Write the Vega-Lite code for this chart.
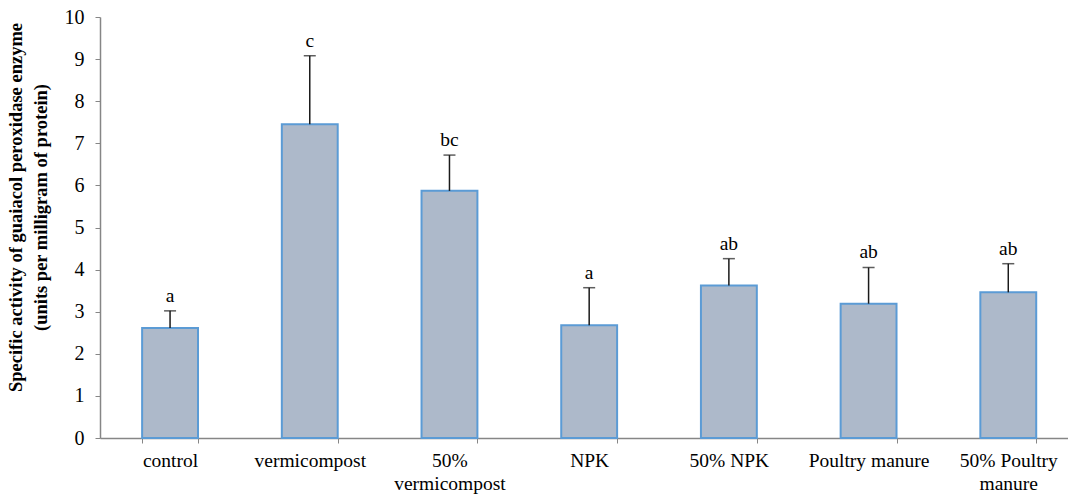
{
  "$schema": "https://vega.github.io/schema/vega-lite/v6.json",
  "autosize": "none",
  "width": 968,
  "height": 421,
  "padding": {"left": 100, "top": 17, "right": 0, "bottom": 58},
  "background": "white",
  "config": {
    "view": {"stroke": null},
    "font": "Liberation Serif"
  },
  "data": {
    "values": [
      {"treatment": "control", "mean": 2.61, "upper": 3.02, "letter": "a"},
      {"treatment": "vermicompost", "mean": 7.45, "upper": 9.08, "letter": "c"},
      {"treatment": "50% vermicompost", "mean": 5.87, "upper": 6.72, "letter": "bc"},
      {"treatment": "NPK", "mean": 2.68, "upper": 3.57, "letter": "a"},
      {"treatment": "50% NPK", "mean": 3.62, "upper": 4.26, "letter": "ab"},
      {"treatment": "Poultry manure", "mean": 3.19, "upper": 4.05, "letter": "ab"},
      {"treatment": "50% Poultry manure", "mean": 3.46, "upper": 4.14, "letter": "ab"}
    ]
  },
  "encoding": {
    "x": {
      "field": "treatment",
      "type": "nominal",
      "sort": null,
      "scale": {"paddingInner": 0.6, "paddingOuter": 0.2645, "align": 0.57},
      "axis": {
        "title": null,
        "labelAngle": 0,
        "labelFont": "Liberation Serif",
        "labelFontSize": 19.5,
        "labelColor": "#000000",
        "labelPadding": 8,
        "labelLineHeight": 23,
        "labelExpr": "datum.label == '50% vermicompost' ? ['50%', 'vermicompost'] : datum.label == '50% Poultry manure' ? ['50% Poultry', 'manure'] : datum.label",
        "tickBand": "extent",
        "tickSize": 5,
        "tickColor": "#868686",
        "domainColor": "#868686",
        "domainWidth": 1.5,
        "labelOverlap": false
      }
    }
  },
  "layer": [
    {
      "mark": {"type": "bar", "fill": "#ADB9CA", "stroke": "#5B9BD5", "strokeWidth": 2},
      "encoding": {
        "y": {
          "field": "mean",
          "type": "quantitative",
          "scale": {"domain": [0, 10], "nice": false},
          "axis": {
            "values": [0, 1, 2, 3, 4, 5, 6, 7, 8, 9, 10],
            "grid": false,
            "title": ["Specific activity of guaiacol peroxidase enzyme", "(units per milligram of protein)"],
            "titleFont": "Liberation Serif",
            "titleFontSize": 18.5,
            "titleFontWeight": "bold",
            "titleColor": "#000000",
            "titleLineHeight": 25,
            "titleAngle": -90,
            "titleAlign": "center",
            "titleBaseline": "top",
            "titleX": -94,
            "titleY": 190,
            "labelFont": "Liberation Serif",
            "labelFontSize": 20,
            "labelColor": "#000000",
            "labelPadding": 11,
            "tickSize": 5,
            "tickColor": "#868686",
            "domainColor": "#868686",
            "domainWidth": 1.5
          }
        }
      }
    },
    {
      "mark": {"type": "rule", "color": "#1a1a1a", "strokeWidth": 1.5},
      "encoding": {
        "y": {"field": "mean", "type": "quantitative"},
        "y2": {"field": "upper"}
      }
    },
    {
      "mark": {"type": "tick", "orient": "horizontal", "color": "#1a1a1a", "size": 12, "thickness": 1.5},
      "encoding": {
        "y": {"field": "upper", "type": "quantitative"}
      }
    },
    {
      "mark": {"type": "text", "font": "Liberation Serif", "fontSize": 19.5, "color": "#000000", "baseline": "alphabetic", "dy": -9},
      "encoding": {
        "y": {"field": "upper", "type": "quantitative"},
        "text": {"field": "letter"}
      }
    }
  ]
}
